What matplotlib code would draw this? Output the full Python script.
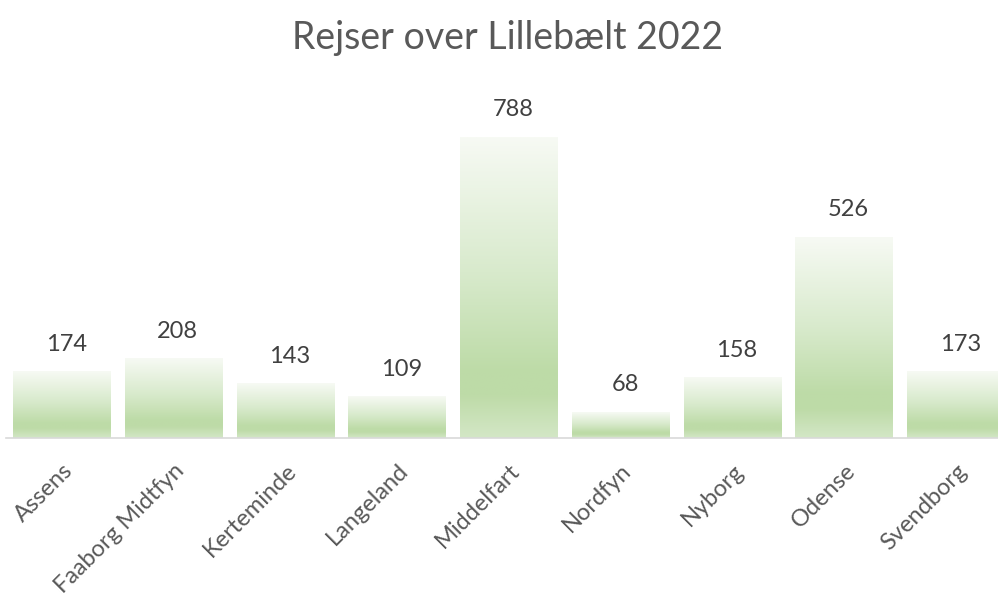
import numpy as np
import matplotlib.pyplot as plt
from matplotlib.colors import LinearSegmentedColormap

# Rejser over Lillebælt fordelt på kommune
kommuner = ['Assens', 'Faaborg Midtfyn', 'Kerteminde', 'Langeland', 'Middelfart',
            'Nordfyn', 'Nyborg', 'Odense', 'Svendborg']
rejser = [174, 208, 143, 109, 788, 68, 158, 526, 173]

plt.rcParams['font.family'] = ['Lato', 'DejaVu Sans']

W, H = 998, 597
fig = plt.figure(figsize=(W / 100, H / 100), dpi=100)

# axes placed in pixel terms, right side runs past the figure edge
base_px = 438
left_px, right_px = 6, 1012
top_px = 100
ax = fig.add_axes([left_px / W, (H - base_px) / H,
                   (right_px - left_px) / W, (base_px - top_px) / H])

px_per_unit = 301 / 788
ymax = (base_px - top_px) / px_per_unit

# light green gradient, top to bottom
grad = LinearSegmentedColormap.from_list(
    'grn', [(0.0, '#f7faf4'), (0.45, '#d8eacc'), (0.78, '#bddba7'),
            (0.86, '#bedba8'), (1.0, '#d3e7c6')])
g = np.linspace(0, 1, 256).reshape(-1, 1)

x = np.arange(len(kommuner))
bw = 0.875
bars = ax.bar(x, rejser, width=bw, color='none', edgecolor='none')
for b, v in zip(bars, rejser):
    x0 = b.get_x()
    ax.imshow(g, cmap=grad, extent=[x0, x0 + bw, 0, v], aspect='auto',
              origin='upper', interpolation='bilinear', zorder=2)
    ax.annotate(str(v), (b.get_x() + bw / 2, v), xytext=(3, 12),
                textcoords='offset points', ha='center', va='bottom',
                fontsize=17, color='#404040')

ax.set_xlim(-0.5, len(kommuner) - 0.5)
ax.set_ylim(0, ymax)
ax.set_yticks([])
ax.set_xticks(x)
ax.set_xticklabels(kommuner, rotation=45, ha='right', rotation_mode='anchor',
                   fontsize=17, color='#595959')
ax.tick_params(axis='x', length=0, pad=16)
for s in ['top', 'right', 'left']:
    ax.spines[s].set_visible(False)
ax.spines['bottom'].set_color('#d9d9d9')
ax.spines['bottom'].set_linewidth(1.2)
ax.spines['bottom'].set_zorder(3)

fig.text(508 / W, 1 - 38 / H, 'Rejser over Lillebælt 2022', ha='center',
         va='center', fontsize=27, color='#595959')

fig.savefig('out.png', dpi=100)
